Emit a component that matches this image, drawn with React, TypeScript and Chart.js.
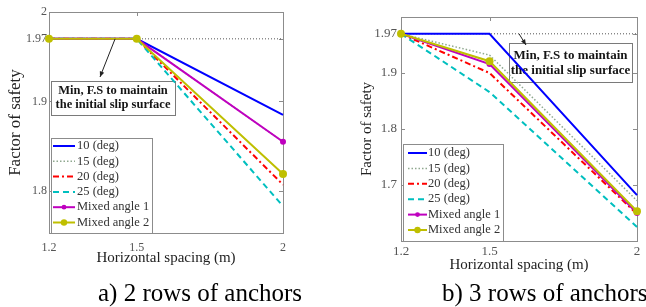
import React, { useEffect, useRef } from 'react';
import { Chart, registerables } from 'chart.js';

Chart.register(...registerables);

const FONT = "'Liberation Serif', 'Times New Roman', serif";

// ---------- data ----------
const xValues = [1.2, 1.5, 2];
const xTickValues = [1.2, 1.5, 2];
const seriesLabels = ['10 (deg)', '15 (deg)', '20 (deg)', '25 (deg)', 'Mixed angle 1', 'Mixed angle 2'];
const minFS = 1.97;

// a) 2 rows of anchors
const leftDeg10 = [1.97, 1.97, 1.885];
const leftDeg15 = [1.97, 1.97, 1.855];
const leftDeg20 = [1.97, 1.97, 1.807];
const leftDeg25 = [1.97, 1.97, 1.783];
const leftMixed1 = [1.97, 1.97, 1.855];
const leftMixed2 = [1.97, 1.97, 1.819];
const leftYTicks = [1.8, 1.9, 1.97, 2];

// b) 3 rows of anchors
const rightDeg10 = [1.97, 1.97, 1.682];
const rightDeg15 = [1.97, 1.932, 1.672];
const rightDeg20 = [1.97, 1.9, 1.648];
const rightDeg25 = [1.97, 1.866, 1.625];
const rightMixed1 = [1.97, 1.916, 1.65];
const rightMixed2 = [1.97, 1.921, 1.653];
const rightYTicks = [1.7, 1.8, 1.9, 1.97];

const xTitle = 'Horizontal spacing (m)';
const yTitle = 'Factor of safety';
const annotationLines = ['Min, F.S to maintain', 'the initial slip surface'];
const captionLeft = 'a) 2 rows of anchors';
const captionRight = 'b) 3 rows of anchors';

// ---------- styles ----------
const seriesStyles = [
  { color: '#0000ff', dash: [] as number[], width: 2, radius: 0 },
  { color: '#8fa88f', dash: [1.5, 2], width: 1.5, radius: 0 },
  { color: '#ff0000', dash: [6, 3, 2, 3], width: 2, radius: 0 },
  { color: '#00bfbf', dash: [6, 4], width: 2, radius: 0 },
  { color: '#bf00bf', dash: [] as number[], width: 2, radius: 3 },
  { color: '#bfbf00', dash: [] as number[], width: 2, radius: 4 },
];

type Geo = {
  width: number;
  height: number;
  area: { left: number; right: number; top: number; bottom: number };
  yMin: number;
  yMax: number;
  yTicks: number[];
  tickSize: number;
  xTickPad: number;
  yTickPad: number;
  yTitleSize: number;
  yTitlePad: number;
  xTitlePadBottom: number;
  legend: { x: number; y: number; w: number; h: number; row0: number; rowH: number; s0: number; s1: number; tx: number; size: number };
  box: { x: number; y: number; w: number; h: number; line0: number; lineH: number; size: number };
  arrow: { fromX: number; toX: number; toY: number };
};

const leftGeo: Geo = {
  width: 323,
  height: 280,
  area: { left: 49, right: 283, top: 12, bottom: 233 },
  yMin: 1.753,
  yMax: 2,
  yTicks: leftYTicks,
  tickSize: 12,
  xTickPad: 8,
  yTickPad: 2,
  yTitleSize: 17,
  yTitlePad: 5,
  xTitlePadBottom: 13,
  legend: { x: 51, y: 138, w: 101, h: 95, row0: 146, rowH: 15.3, s0: 53, s1: 75, tx: 77, size: 12.5 },
  box: { x: 51, y: 81, w: 124, h: 34, line0: 91, lineH: 14, size: 12.5 },
  arrow: { fromX: 1.426, toX: 100, toY: 77 },
};

const rightGeo: Geo = {
  width: 323,
  height: 280,
  area: { left: 78, right: 314, top: 17, bottom: 241 },
  yMin: 1.6,
  yMax: 2,
  yTicks: rightYTicks,
  tickSize: 13,
  xTickPad: 3,
  yTickPad: 4,
  yTitleSize: 15,
  yTitlePad: 35,
  xTitlePadBottom: 6,
  legend: { x: 80, y: 144, w: 100, h: 97, row0: 153, rowH: 15.4, s0: 85, s1: 104, tx: 105, size: 12.5 },
  box: { x: 186, y: 43, w: 123, h: 39, line0: 56, lineH: 15, size: 13 },
  arrow: { fromX: 1.6, toX: 203, toY: 45 },
};

function makePlugin(geo: Geo) {
  return {
    id: 'panelDecor',
    beforeDatasetsDraw(chart: any) {
      const { ctx, chartArea: a } = chart;
      const xs = chart.scales.x;
      const ys = chart.scales.y;
      ctx.save();
      ctx.strokeStyle = '#8c8c8c';
      ctx.lineWidth = 1;
      ctx.setLineDash([]);
      ctx.strokeRect(Math.round(a.left) + 0.5, Math.round(a.top) + 0.5, a.right - a.left, a.bottom - a.top);
      ctx.beginPath();
      geo.yTicks.forEach((v) => {
        const py = Math.round(ys.getPixelForValue(v)) + 0.5;
        ctx.moveTo(a.left, py);
        ctx.lineTo(a.left + 4, py);
        ctx.moveTo(a.right, py);
        ctx.lineTo(a.right - 4, py);
      });
      xTickValues.forEach((v) => {
        const px = Math.round(xs.getPixelForValue(v)) + 0.5;
        ctx.moveTo(px, a.bottom);
        ctx.lineTo(px, a.bottom - 4);
        ctx.moveTo(px, a.top);
        ctx.lineTo(px, a.top + 4);
      });
      ctx.stroke();
      // annotation box
      const b = geo.box;
      ctx.fillStyle = '#ffffff';
      ctx.fillRect(b.x, b.y, b.w, b.h);
      ctx.strokeStyle = '#7a7a7a';
      ctx.strokeRect(b.x + 0.5, b.y + 0.5, b.w, b.h);
      ctx.fillStyle = '#151515';
      ctx.font = `bold ${b.size}px ${FONT}`;
      ctx.textAlign = 'center';
      ctx.textBaseline = 'middle';
      annotationLines.forEach((t, i) => ctx.fillText(t, b.x + b.w / 2, b.line0 + i * b.lineH));
      ctx.restore();
    },
    afterDatasetsDraw(chart: any) {
      const { ctx } = chart;
      const xs = chart.scales.x;
      const ys = chart.scales.y;
      ctx.save();
      // arrow
      const fx = xs.getPixelForValue(geo.arrow.fromX);
      const fy = ys.getPixelForValue(minFS);
      const tx = geo.arrow.toX;
      const ty = geo.arrow.toY;
      const ang = Math.atan2(ty - fy, tx - fx);
      ctx.strokeStyle = '#222';
      ctx.fillStyle = '#222';
      ctx.lineWidth = 1;
      ctx.setLineDash([]);
      ctx.beginPath();
      ctx.moveTo(fx, fy);
      ctx.lineTo(tx, ty);
      ctx.stroke();
      ctx.beginPath();
      ctx.moveTo(tx, ty);
      ctx.lineTo(tx - 6 * Math.cos(ang - 0.4), ty - 6 * Math.sin(ang - 0.4));
      ctx.lineTo(tx - 6 * Math.cos(ang + 0.4), ty - 6 * Math.sin(ang + 0.4));
      ctx.closePath();
      ctx.fill();
      // legend
      const L = geo.legend;
      ctx.fillStyle = '#ffffff';
      ctx.fillRect(L.x, L.y, L.w, L.h);
      ctx.strokeStyle = '#8c8c8c';
      ctx.strokeRect(L.x + 0.5, L.y + 0.5, L.w, L.h);
      let row = 0;
      chart.data.datasets.forEach((ds: any) => {
        if (ds.hideInLegend) return;
        const y = L.row0 + row * L.rowH;
        ctx.strokeStyle = ds.borderColor;
        ctx.lineWidth = ds.borderWidth;
        ctx.setLineDash(ds.borderDash || []);
        ctx.beginPath();
        ctx.moveTo(L.s0, y);
        ctx.lineTo(L.s1, y);
        ctx.stroke();
        ctx.setLineDash([]);
        if (ds.pointRadius > 0) {
          ctx.fillStyle = ds.borderColor;
          ctx.beginPath();
          ctx.arc((L.s0 + L.s1) / 2, y, ds.pointRadius * 0.8, 0, Math.PI * 2);
          ctx.fill();
        }
        ctx.fillStyle = '#333';
        ctx.font = `${L.size}px ${FONT}`;
        ctx.textAlign = 'left';
        ctx.textBaseline = 'middle';
        ctx.fillText(ds.label, L.tx, y);
        row++;
      });
      ctx.restore();
    },
  };
}

function buildConfig(geo: Geo, series: number[][]): any {
  const datasets: any[] = series.map((vals, i) => {
    const s = seriesStyles[i];
    return {
      label: seriesLabels[i],
      data: xValues.map((x, k) => ({ x, y: vals[k] })),
      borderColor: s.color,
      backgroundColor: s.color,
      borderWidth: s.width,
      borderDash: s.dash,
      pointRadius: s.radius,
      pointBackgroundColor: s.color,
      pointBorderColor: s.color,
      pointBorderWidth: 0,
      tension: 0,
      clip: false,
      order: series.length - 1 - i,
    };
  });
  datasets.push({
    label: 'Min F.S',
    hideInLegend: true,
    data: [
      { x: xValues[0], y: minFS },
      { x: xValues[xValues.length - 1], y: minFS },
    ],
    borderColor: '#555',
    borderWidth: 1,
    borderDash: [1, 2],
    pointRadius: 0,
    order: 20,
  });
  const tickFont = { family: FONT, size: geo.tickSize };
  return {
    type: 'line',
    data: { datasets },
    options: {
      animation: false,
      responsive: false,
      maintainAspectRatio: false,
      events: [],
      layout: { padding: { left: 0, top: geo.area.top, right: geo.width - geo.area.right, bottom: 0 } },
      plugins: { legend: { display: false }, tooltip: { enabled: false } },
      scales: {
        x: {
          type: 'linear',
          min: 1.2,
          max: 2,
          afterBuildTicks: (s: any) => {
            s.ticks = xTickValues.map((v) => ({ value: v }));
          },
          afterFit: (s: any) => {
            s.height = geo.height - geo.area.bottom;
            s.paddingLeft = 0;
            s.paddingRight = 0;
          },
          grid: { display: false, drawTicks: false },
          border: { display: false },
          ticks: { font: tickFont, color: '#555', padding: geo.xTickPad, maxRotation: 0, autoSkip: false, callback: (v: any) => String(v) },
          title: { display: true, text: xTitle, font: { family: FONT, size: 15 }, color: '#222', padding: { top: 0, bottom: geo.xTitlePadBottom } },
        },
        y: {
          type: 'linear',
          min: geo.yMin,
          max: geo.yMax,
          afterBuildTicks: (s: any) => {
            s.ticks = geo.yTicks.map((v) => ({ value: v }));
          },
          afterFit: (s: any) => {
            s.width = geo.area.left;
            s.paddingTop = 0;
            s.paddingBottom = 0;
          },
          grid: { display: false, drawTicks: false },
          border: { display: false },
          ticks: { font: tickFont, color: '#555', padding: geo.yTickPad, autoSkip: false, callback: (v: any) => String(v) },
          title: { display: true, text: yTitle, font: { family: FONT, size: geo.yTitleSize }, color: '#222', padding: { top: geo.yTitlePad, bottom: 0 } },
        },
      },
    },
    plugins: [makePlugin(geo)],
  };
}

function Panel({ geo, series, left }: { geo: Geo; series: number[][]; left: number }) {
  const ref = useRef<HTMLCanvasElement>(null);
  useEffect(() => {
    const chart = new Chart(ref.current as HTMLCanvasElement, buildConfig(geo, series));
    return () => chart.destroy();
  }, []);
  return (
    <canvas
      ref={ref}
      width={geo.width}
      height={geo.height}
      style={{ position: 'absolute', left, top: 0, width: geo.width, height: geo.height, display: 'block' }}
    />
  );
}

export default function App() {
  const captionStyle: React.CSSProperties = {
    position: 'absolute',
    top: 280,
    fontFamily: FONT,
    fontSize: 25,
    lineHeight: '25px',
    color: '#000',
    whiteSpace: 'nowrap',
  };
  return (
    <div style={{ position: 'absolute', left: 0, top: 0, width: 646, height: 307, overflow: 'hidden', background: '#fff' }}>
      <Panel geo={leftGeo} series={[leftDeg10, leftDeg15, leftDeg20, leftDeg25, leftMixed1, leftMixed2]} left={0} />
      <Panel geo={rightGeo} series={[rightDeg10, rightDeg15, rightDeg20, rightDeg25, rightMixed1, rightMixed2]} left={323} />
      <div style={{ ...captionStyle, left: 98 }}>{captionLeft}</div>
      <div style={{ ...captionStyle, left: 442 }}>{captionRight}</div>
    </div>
  );
}
